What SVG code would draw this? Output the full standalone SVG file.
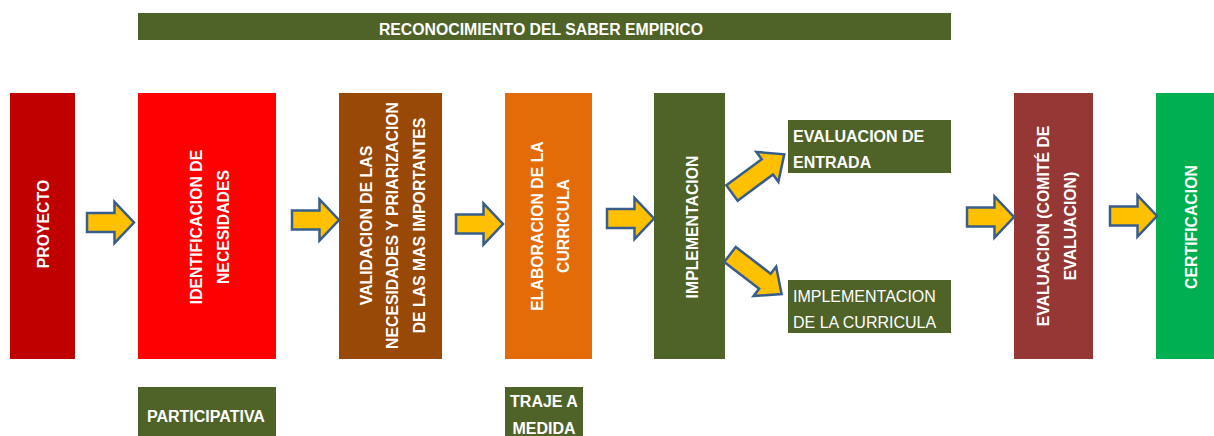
<svg xmlns="http://www.w3.org/2000/svg" xmlns:xlink="http://www.w3.org/1999/xlink" width="1214" height="436" viewBox="0 0 1214 436">
<style>
text{font-family:"Liberation Sans",Arial,sans-serif;fill:#FFFFFF;}
.b{font-weight:bold;font-size:15.8px;}
.r{font-weight:normal;font-size:16px;}
.v{font-weight:bold;font-size:15.8px;text-anchor:middle;}
.m{text-anchor:middle;}
.olive{fill:#4F6228;}
.arrow{fill:#FFC000;stroke:#385D8A;stroke-width:2.5;stroke-linejoin:miter;}
</style>
<defs>
<path id="arr" d="M0,-9.5 H27.5 V-20.5 L47,0 L27.5,20.5 V9.5 H0 Z"/>
<path id="arrL" d="M0,-9.5 H44 V-18.5 L65,0 L44,18.5 V9.5 H0 Z"/>
</defs>
<rect width="1214" height="436" fill="#FFFFFF"/>

<g id="banner">
<rect class="olive" x="138" y="13" width="813" height="27"/>
<text class="b m" x="541" y="35">RECONOCIMIENTO DEL SABER EMPIRICO</text>
</g>

<g id="proyecto">
<rect x="10" y="93" width="65" height="266" fill="#C00000"/>
<text class="v" transform="translate(49,224) rotate(-90)">PROYECTO</text>
</g>

<g id="identificacion">
<rect x="138" y="93" width="138" height="266" fill="#FF0000"/>
<text class="v" transform="translate(202,227) rotate(-90)"><tspan x="0" y="0">IDENTIFICACION DE</tspan><tspan x="0" dy="27">NECESIDADES</tspan></text>
</g>

<g id="validacion">
<rect x="339" y="93" width="103" height="266" fill="#984807"/>
<text class="v" transform="translate(371.5,225.5) rotate(-90)"><tspan x="0" y="0">VALIDACION DE LAS</tspan><tspan x="0" dy="26.7">NECESIDADES Y PRIARIZACION</tspan><tspan x="0" dy="26.7">DE LAS MAS IMPORTANTES</tspan></text>
</g>

<g id="elaboracion">
<rect x="505" y="93" width="87" height="266" fill="#E36C09"/>
<text class="v" transform="translate(543,226) rotate(-90)"><tspan x="0" y="0">ELABORACION DE LA</tspan><tspan x="0" dy="26">CURRICULA</tspan></text>
</g>

<g id="implementacion">
<rect class="olive" x="654" y="93" width="71" height="266"/>
<text class="v" transform="translate(698,227) rotate(-90)">IMPLEMENTACION</text>
</g>

<g id="evaluacion-entrada">
<rect class="olive" x="788" y="120" width="163" height="53"/>
<text class="b" style="font-size:16px" x="793" y="142">EVALUACION DE</text>
<text class="b" style="font-size:16px" x="793" y="168">ENTRADA</text>
</g>

<g id="implementacion-curricula">
<rect class="olive" x="788" y="280" width="163" height="53"/>
<text class="r" x="793" y="302">IMPLEMENTACION</text>
<text class="r" x="793" y="328">DE LA CURRICULA</text>
</g>

<g id="evaluacion-comite">
<rect x="1014" y="93" width="79" height="266" fill="#953735"/>
<text class="v" transform="translate(1049,226) rotate(-90)"><tspan x="0" y="0">EVALUACION (COMITÉ DE</tspan><tspan x="0" dy="27">EVALUACION)</tspan></text>
</g>

<g id="certificacion">
<rect x="1156" y="93" width="58" height="266" fill="#00B050"/>
<text class="v" transform="translate(1197,227) rotate(-90)">CERTIFICACION</text>
</g>

<g id="participativa">
<rect class="olive" x="138" y="387" width="138" height="49"/>
<text class="b" style="font-size:16px" x="147" y="422">PARTICIPATIVA</text>
</g>

<g id="traje-a-medida">
<rect class="olive" x="505" y="387" width="78" height="49"/>
<text class="b m" style="font-size:16px" x="544" y="407">TRAJE A</text>
<text class="b m" style="font-size:16px" x="544" y="434">MEDIDA</text>
</g>

<g id="connectors">
<use xlink:href="#arr" class="arrow" transform="translate(87,222.5)"/>
<use xlink:href="#arr" class="arrow" transform="translate(292,220)"/>
<use xlink:href="#arr" class="arrow" transform="translate(456,224)"/>
<use xlink:href="#arr" class="arrow" transform="translate(607,218.5)"/>
<use xlink:href="#arrL" class="arrow" transform="translate(732,193) rotate(-36.5)"/>
<use xlink:href="#arrL" class="arrow" transform="translate(730,254.5) rotate(37.5)"/>
<use xlink:href="#arr" class="arrow" transform="translate(967,217)"/>
<use xlink:href="#arr" class="arrow" transform="translate(1110,216)"/>
</g>
</svg>
